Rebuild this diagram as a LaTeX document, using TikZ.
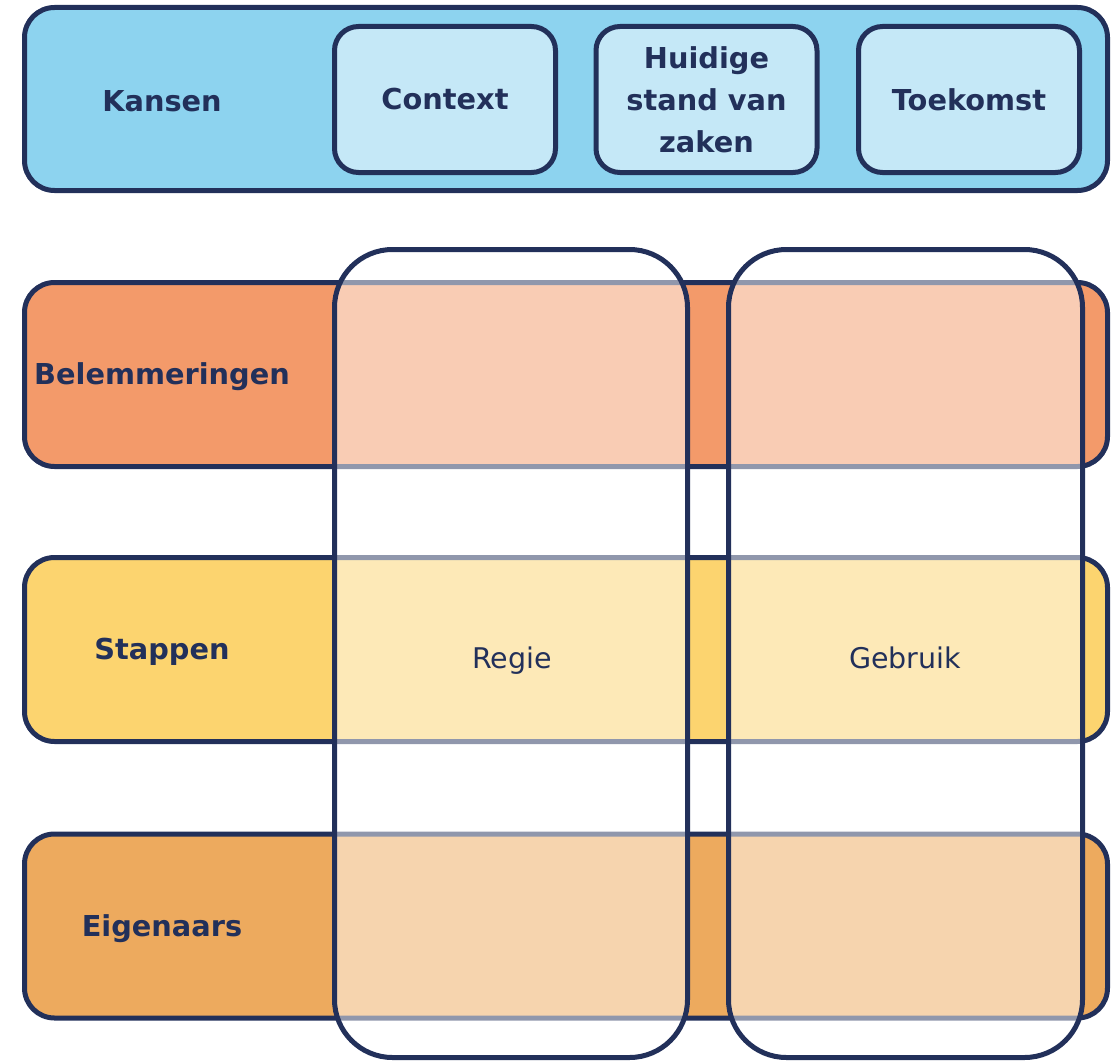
\documentclass[tikz,border=0pt]{standalone}
\usepackage{fontspec}
\setmainfont{DejaVu Sans}
\definecolor{navy}{HTML}{22305A}
\definecolor{skyA}{HTML}{8DD3EF}
\definecolor{skyB}{HTML}{C5E8F7}
\definecolor{rowA}{HTML}{F39A6A}
\definecolor{rowB}{HTML}{FCD46F}
\definecolor{rowC}{HTML}{EDAA5E}
\tikzset{
  frame/.style={draw=navy, line width=5pt, rectangle, inner sep=0pt},
  band/.style={frame, rounded corners=30pt, minimum width=1083pt, minimum height=184pt},
  tile/.style={frame, fill=skyB, rounded corners=24pt, minimum width=221pt, minimum height=146pt,
     font=\fontsize{28.8}{42}\selectfont\bfseries, text=navy, align=center},
  colbox/.style={frame, fill=white, fill opacity=0.5, draw opacity=1, rounded corners=58pt, minimum height=808pt},
  lbl/.style={font=\fontsize{28.8}{42}\selectfont\bfseries, text=navy, inner sep=0pt},
  plain/.style={font=\fontsize{28.5}{34}\selectfont, text=navy, inner sep=0pt, anchor=base}
}
\begin{document}
\begin{tikzpicture}[x=1pt,y=-1pt]
\useasboundingbox (0,0) rectangle (1119,1062);
% top band
\node[frame, fill=skyA, rounded corners=30pt, minimum width=1083pt, minimum height=183pt] (kansbox) at (566,99) {};
\node[lbl] (kansen) at (162,101) {Kansen};
\node[tile] (context) at (445,99.5) {Context};
\node[tile] (huidig) at (706.5,99.5) {Huidige\\stand van\\zaken};
\node[tile] (toekomst) at (969,99.5) {Toekomst};
% rows
\node[band, fill=rowA] (belbox) at (566,374.5) {};
\node[band, fill=rowB] (stapbox) at (566,649.5) {};
\node[band, fill=rowC] (eigbox) at (566,926) {};
\node[lbl] (belem) at (162,377) {Belemmeringen};
\node[lbl] (stappen) at (162,652) {Stappen};
\node[lbl] (eigen) at (162,929) {Eigenaars};
% columns
\node[colbox, minimum width=353pt] (regiebox) at (511,653.5) {};
\node[colbox, minimum width=354pt] (gebrbox) at (905.5,653.5) {};
\node[plain] (regie) at (512,668.5) {Regie};
\node[plain] (gebruik) at (905,668.5) {Gebruik};
\end{tikzpicture}
\end{document}
